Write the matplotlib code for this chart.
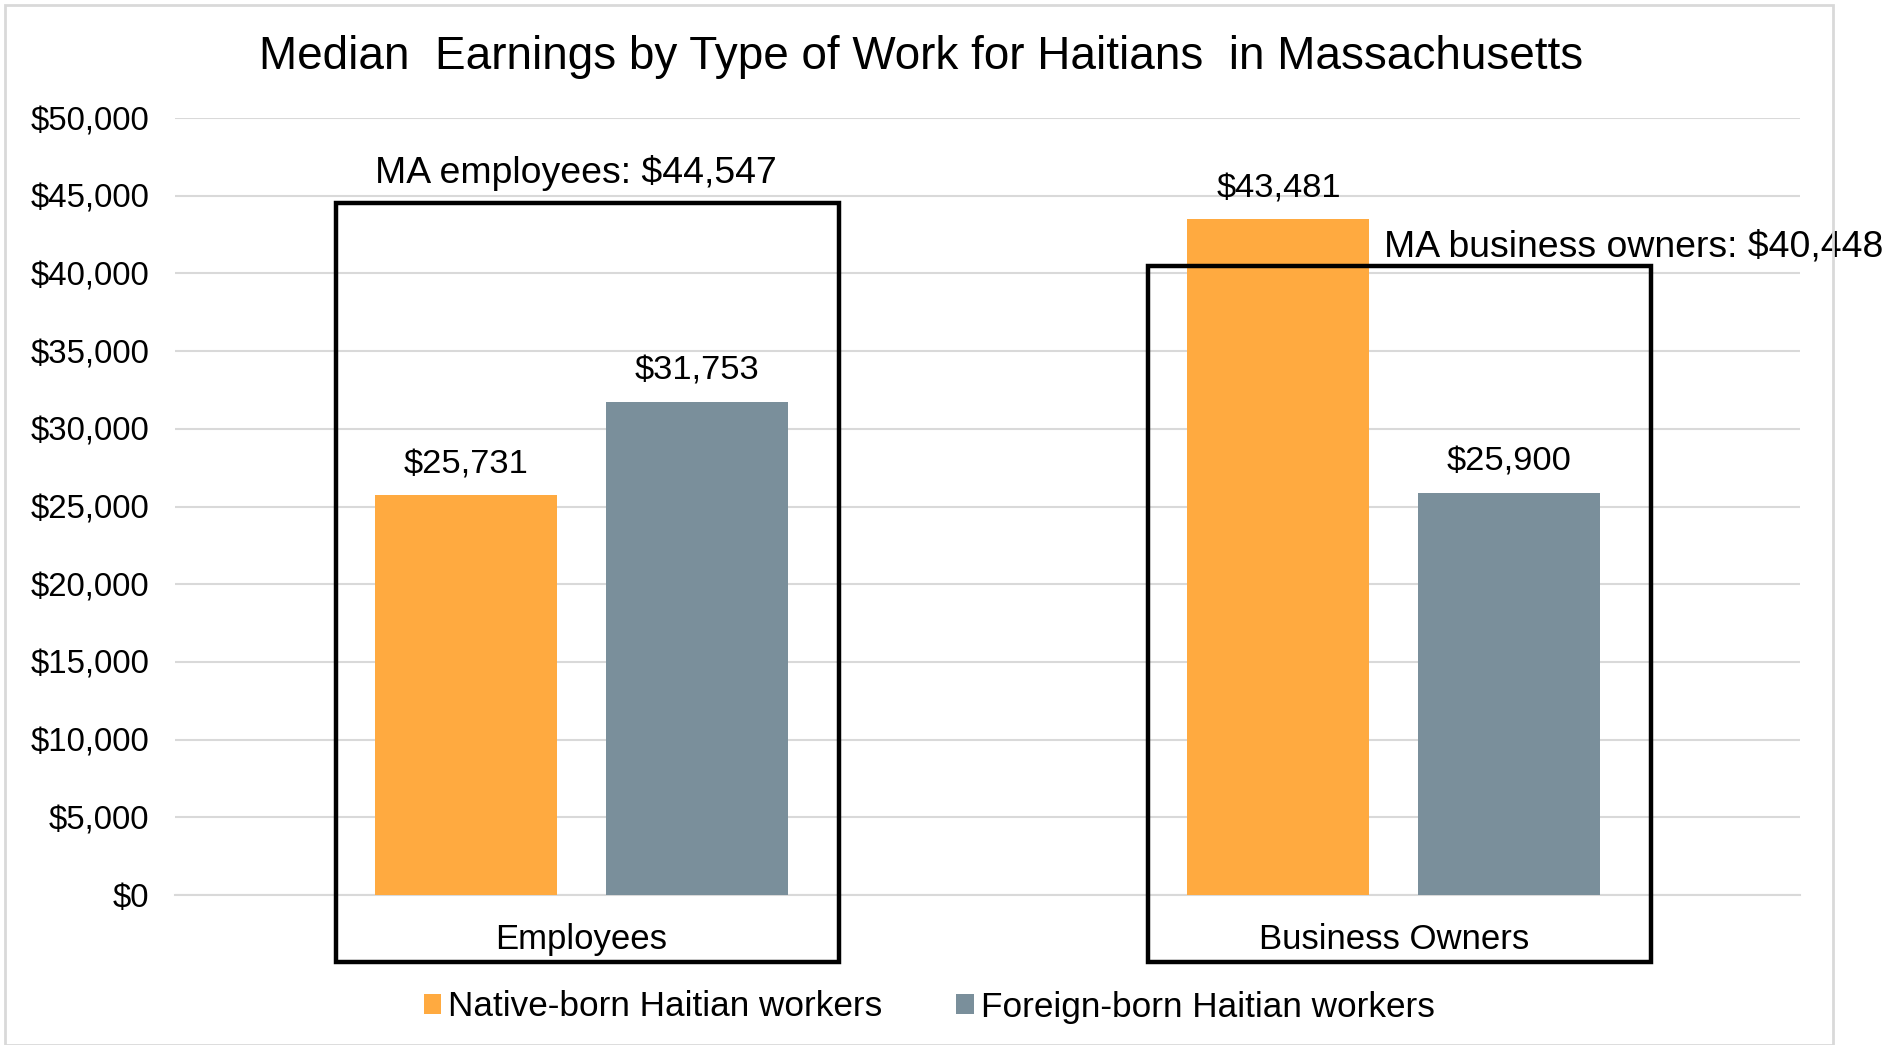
import numpy as np
import matplotlib
matplotlib.use("Agg")
import matplotlib.pyplot as plt
from matplotlib.patches import Rectangle

plt.rcParams["font.family"] = ["Liberation Sans", "DejaVu Sans"]

# Data
categories = ["Employees", "Business Owners"]
native_born = [25731, 43481]
foreign_born = [31753, 25900]
ma_labels = ["MA employees: $44,547", "MA business owners: $40,448"]
ma_values = [44547, 40448]
y_ticks = [0, 5000, 10000, 15000, 20000, 25000, 30000, 35000, 40000, 45000, 50000]

orange = "#FFAA40"
gray = "#7A8F9B"

fig = plt.figure(figsize=(18.91, 10.45), dpi=100)
ax = fig.add_axes([175 / 1891, 1 - 895 / 1045, 1625 / 1891, (895 - 118) / 1045])

x = np.arange(len(categories))
w = 0.224
off = 0.142
b1 = ax.bar(x - off, native_born, w, color=orange, label="Native-born Haitian workers", zorder=3)
b2 = ax.bar(x + off, foreign_born, w, color=gray, label="Foreign-born Haitian workers", zorder=3)

for bars in (b1, b2):
    for b in bars:
        h = b.get_height()
        ax.text(b.get_x() + b.get_width() / 2, h + 950, "${:,.0f}".format(h),
                ha="center", va="bottom", fontsize=24.8, zorder=5)

# boxes showing the Massachusetts average for each group
for i, v in enumerate(ma_values):
    rect = Rectangle((i - 0.302, -4300), 0.619, v + 4300, fill=False,
                     edgecolor="black", linewidth=3.2, clip_on=False, zorder=4)
    ax.add_patch(rect)
ax.text(-0.007, ma_values[0] + 760, ma_labels[0], ha="center", va="bottom", fontsize=26.9)
ax.text(0.988, ma_values[1] + 1250, ma_labels[1], ha="left", va="center", fontsize=26.9)

ax.set_xlim(-0.5, 1.5)
ax.set_ylim(0, 50000)
ax.set_yticks(y_ticks)
ax.set_yticklabels(["${:,.0f}".format(t) for t in y_ticks], fontsize=23.8)
ax.set_xticks(x)
ax.set_xticklabels(categories, fontsize=25)
ax.tick_params(axis="both", length=0)
ax.tick_params(axis="y", pad=18.5)
ax.tick_params(axis="x", pad=20)
ax.grid(axis="y", color="#D9D9D9", linewidth=1.5, zorder=0)
for s in ["top", "right", "left"]:
    ax.spines[s].set_visible(False)
ax.spines["bottom"].set_color("#D9D9D9")
ax.spines["bottom"].set_linewidth(1.5)

fig.text(0.487, 1 - 57 / 1045, "Median  Earnings by Type of Work for Haitians  in Massachusetts",
         ha="center", va="center", fontsize=33)

fig.legend(handles=[b1, b2], loc="center", bbox_to_anchor=(0.4914, 1 - 1007 / 1045),
           ncol=2, frameon=False, fontsize=25.3, handlelength=0.5, handleheight=0.5,
           handletextpad=0.2, columnspacing=2.1)

# light outer border
fig.add_artist(Rectangle((5 / 1891, 0), 1828 / 1891, 1 - 5 / 1045, transform=fig.transFigure,
                         fill=False, edgecolor="#D9D9D9", linewidth=2))

fig.savefig("out.png", dpi=100)
